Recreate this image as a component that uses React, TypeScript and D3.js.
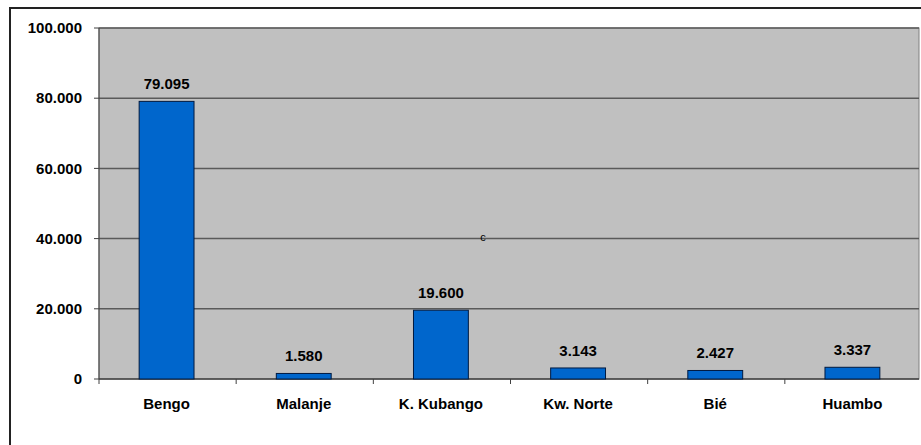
import React from "react";
import * as d3 from "d3";

const categories = ["Bengo", "Malanje", "K. Kubango", "Kw. Norte", "Bié", "Huambo"];
const values = [79095, 1580, 19600, 3143, 2427, 3337];
const yTicks = [0, 20000, 40000, 60000, 80000, 100000];

const W = 921;
const H = 445;
const plot = { left: 99, top: 28, right: 922, bottom: 379 };

const fmt = (v: number) =>
  v === 0 ? "0" : d3.format(",")(v).replace(/,/g, ".");

export default function App() {
  const x = d3
    .scaleBand<string>()
    .domain(categories)
    .range([plot.left, plot.right])
    .padding(0);
  const y = d3.scaleLinear().domain([0, 100000]).range([plot.bottom, plot.top]);
  const bw = x.bandwidth() * 0.4;
  const font = "'Liberation Sans', Arial, sans-serif";
  const plotRightEdge = 919;

  return (
    <svg
      width={W}
      height={H}
      style={{ position: "absolute", left: 0, top: 0, display: "block" }}
      fontFamily={font}
    >
      <rect x={0} y={0} width={W} height={H} fill="#fff" />
      {/* chart frame */}
      <rect x={10} y={8} width={W + 20} height={H + 20} fill="none" stroke="#222" strokeWidth={2} />

      {/* plot area */}
      <rect
        x={plot.left}
        y={plot.top}
        width={plotRightEdge - plot.left}
        height={plot.bottom - plot.top}
        fill="#c0c0c0"
        stroke="#808080"
        strokeWidth={1}
      />

      {/* gridlines and y ticks */}
      {yTicks.map((t) => (
        <g key={t}>
          <line
            x1={plot.left}
            x2={plotRightEdge}
            y1={y(t)}
            y2={y(t)}
            stroke={t === 0 ? "#404040" : "#5a5a5a"}
            strokeWidth={1.5}
          />
          <line x1={plot.left - 5} x2={plot.left} y1={y(t)} y2={y(t)} stroke="#404040" />
          <text
            x={82}
            y={y(t)}
            dy="0.35em"
            textAnchor="end"
            fontSize={15}
            fontWeight="bold"
            fill="#000"
          >
            {fmt(t)}
          </text>
        </g>
      ))}
      <line x1={plot.left} x2={plot.left} y1={plot.top} y2={plot.bottom} stroke="#404040" />

      {/* x ticks */}
      {categories.map((c, i) => (
        <line
          key={c}
          x1={plot.left + i * x.step()}
          x2={plot.left + i * x.step()}
          y1={plot.bottom}
          y2={plot.bottom + 5}
          stroke="#404040"
        />
      ))}

      {/* bars */}
      {categories.map((c, i) => {
        const cx = (x(c) as number) + x.bandwidth() / 2 - 1;
        return (
          <g key={c}>
            <rect
              x={cx - bw / 2}
              y={y(values[i])}
              width={bw}
              height={plot.bottom - y(values[i])}
              fill="#0066cc"
              stroke="#001a40"
              strokeWidth={1}
            />
            <text
              x={cx}
              y={y(values[i]) - 12}
              textAnchor="middle"
              fontSize={15}
              fontWeight="bold"
              fill="#000"
            >
              {fmt(values[i])}
            </text>
            <text
              x={cx}
              y={409}
              textAnchor="middle"
              fontSize={15}
              fontWeight="bold"
              fill="#000"
            >
              {c}
            </text>
          </g>
        );
      })}

      <text x={483} y={241} textAnchor="middle" fontSize={11} fill="#000">
        c
      </text>
    </svg>
  );
}
